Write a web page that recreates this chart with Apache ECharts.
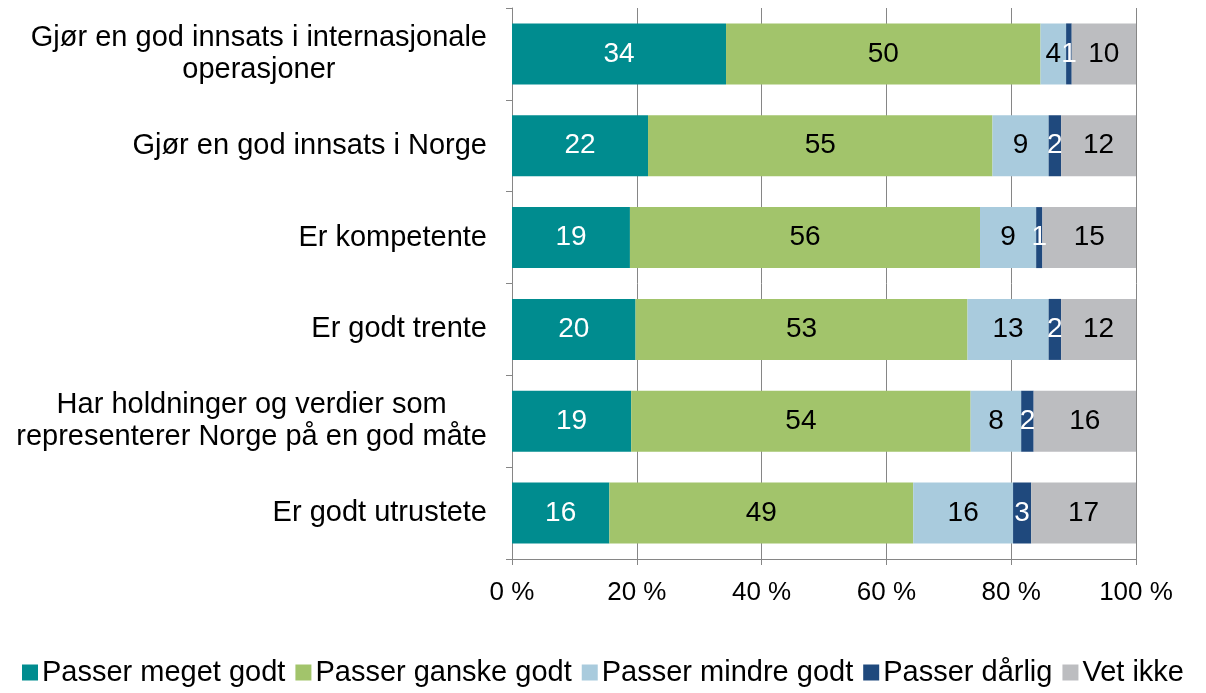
<!DOCTYPE html>
<html>
<head>
<meta charset="utf-8">
<script src="https://cdn.jsdelivr.net/npm/echarts@6/dist/echarts.min.js"></script>
<style>
    html, body { margin: 0; padding: 0; background: #fff; }
    #chart { width: 1206px; height: 693px; }
</style>
</head>
<body>
<div id="chart"></div>
<script>
// categories, top to bottom
const categories = [
    "Gjør en god innsats i internasjonale\noperasjoner",
    "Gjør en god innsats i Norge",
    "Er kompetente",
    "Er godt trente",
    "Har holdninger og verdier som\nrepresenterer Norge på en god måte",
    "Er godt utrustete",
];

const seriesNames = ["Passer meget godt", "Passer ganske godt", "Passer mindre godt", "Passer dårlig", "Vet ikke"];
const seriesColors = ["#008c8f", "#a2c46b", "#a9cbdd", "#1f497d", "#bcbdc0"];
const labelColors = ["#ffffff", "#000000", "#000000", "#ffffff", "#000000"];

// percentages per series (same order as categories)
const meget = [34.3, 21.8, 18.9, 19.8, 19.1, 15.6];
const ganske = [50.4, 55.2, 56.1, 53.2, 54.4, 48.7];
const mindre = [4.1, 9.0, 9.0, 13.0, 8.1, 16.0];
const daarlig = [0.9, 2.0, 1.0, 2.0, 2.0, 2.9];
const vetIkke = [10.3, 12.0, 15.0, 12.0, 16.4, 16.8];
const seriesValues = [meget, ganske, mindre, daarlig, vetIkke];

const xTicks = [0, 20, 40, 60, 80, 100];

const font = "Liberation Sans, Arial, sans-serif";

const series = seriesNames.map((name, i) => ({
    name,
    type: "bar",
    stack: "total",
    barWidth: 61,
    itemStyle: { color: seriesColors[i] },
    label: {
        show: true,
        position: "inside",
        color: labelColors[i],
        fontFamily: font,
        fontSize: 28,
        formatter: (p) => Math.round(p.value),
    },
    data: seriesValues[i],
}));

const chart = echarts.init(document.getElementById("chart"), null, { renderer: "canvas" });
chart.setOption({
    animation: false,
    textStyle: { fontFamily: font },
    grid: { left: 512, right: 70, top: 8, bottom: 134, containLabel: false },
    legend: {
        bottom: 1,
        left: "center",
        itemWidth: 16,
        itemHeight: 16,
        itemGap: 10,
        icon: "rect",
        textStyle: { fontSize: 29, color: "#000", fontFamily: font, padding: [0, 0, 0, -1] },
        data: seriesNames,
    },
    xAxis: {
        type: "value",
        min: 0,
        max: 100,
        interval: 20,
        axisLine: { show: true, lineStyle: { color: "#868686" } },
        axisTick: { show: true, length: 6, lineStyle: { color: "#868686" } },
        splitLine: { show: true, lineStyle: { color: "#868686", width: 1 } },
        axisLabel: {
            color: "#000",
            fontSize: 26,
            margin: 21,
            fontFamily: font,
            formatter: (v) => (xTicks.includes(v) ? v + " %" : ""),
        },
    },
    yAxis: {
        type: "category",
        inverse: true,
        data: categories,
        axisLine: { show: true, lineStyle: { color: "#868686" } },
        axisTick: { show: true, length: 6, lineStyle: { color: "#868686" } },
        axisLabel: {
            color: "#000",
            fontSize: 29,
            margin: 25,
            fontFamily: font,
            lineHeight: 32,
            formatter: (v) => v.split("\n").map((s) => "{c|" + s + "}").join("\n"),
            rich: {
                c: { align: "center", fontSize: 29, lineHeight: 32, color: "#000", fontFamily: font },
            },
        },
    },
    series,
});
</script>
</body>
</html>
